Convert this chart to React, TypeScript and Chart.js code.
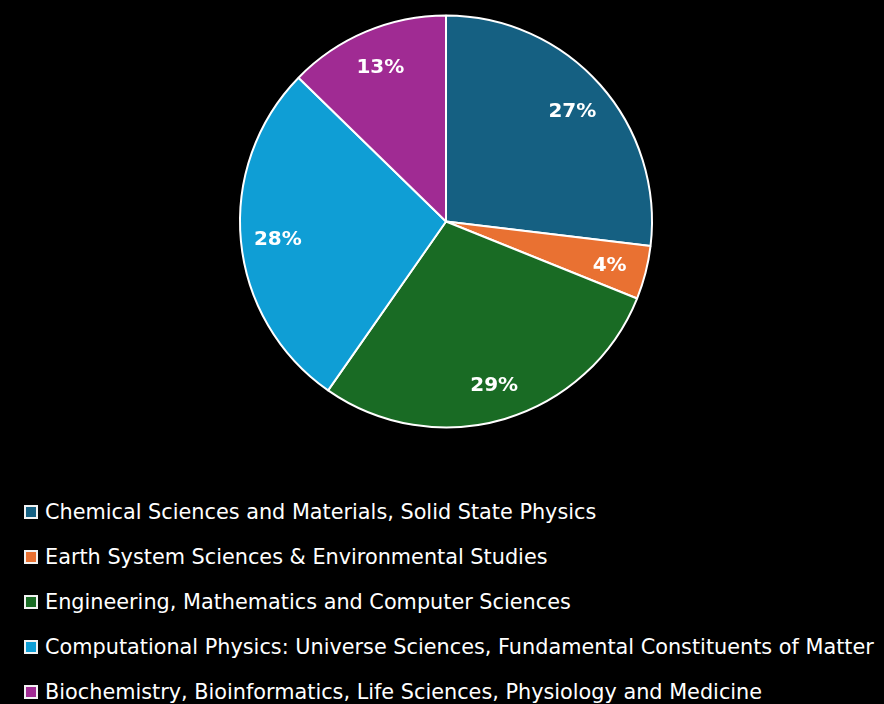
import React, { useEffect, useRef } from "react";
import { Chart, registerables } from "chart.js";

Chart.register(...registerables);

const categories = [
  "Chemical Sciences and Materials, Solid State Physics",
  "Earth System Sciences & Environmental Studies",
  "Engineering, Mathematics and Computer Sciences",
  "Computational Physics: Universe Sciences, Fundamental Constituents of Matter",
  "Biochemistry, Bioinformatics, Life Sciences, Physiology and Medicine",
];
const shares = [26.9, 4.2, 28.6, 27.6, 12.7];
const colors = ["#156082", "#E97132", "#196B24", "#0F9ED5", "#A02B93"];

const labelPlugin = {
  id: "sliceLabels",
  afterDatasetsDraw(chart: any) {
    const ctx = chart.ctx;
    const meta = chart.getDatasetMeta(0);
    const data = chart.data.datasets[0].data as number[];
    const total = data.reduce((a, b) => a + b, 0);
    ctx.save();
    ctx.fillStyle = "#ffffff";
    ctx.font = "bold 20px 'DejaVu Sans', sans-serif";
    ctx.textAlign = "center";
    ctx.textBaseline = "middle";
    meta.data.forEach((arc: any, i: number) => {
      const { x, y, startAngle, endAngle, outerRadius } = arc.getProps(
        ["x", "y", "startAngle", "endAngle", "outerRadius"],
        true
      );
      const mid = (startAngle + endAngle) / 2;
      const r = outerRadius * 0.82;
      const pct = Math.round((data[i] / total) * 100);
      ctx.fillText(pct + "%", x + Math.cos(mid) * r, y + Math.sin(mid) * r + 2);
    });
    ctx.restore();
  },
};

export default function App() {
  const canvasRef = useRef<HTMLCanvasElement | null>(null);

  useEffect(() => {
    document.body.style.margin = "0";
    document.body.style.background = "#000";
    const chart = new Chart(canvasRef.current as HTMLCanvasElement, {
      type: "pie",
      data: {
        labels: categories,
        datasets: [
          {
            data: shares,
            backgroundColor: colors,
            borderColor: "#ffffff",
            borderWidth: 2,
            hoverOffset: 0,
          },
        ],
      },
      options: {
        animation: false,
        responsive: false,
        radius: 206,
        layout: { padding: { left: 8, top: 3, right: 0, bottom: 0 } },
        plugins: {
          legend: { display: false },
          tooltip: { enabled: false },
        },
      },
      plugins: [labelPlugin],
    });
    return () => chart.destroy();
  }, []);

  return (
    <div
      style={{
        position: "fixed",
        left: 0,
        top: 0,
        width: 884,
        height: 704,
        background: "#000",
        overflow: "hidden",
      }}
    >
      <canvas
        ref={canvasRef}
        width={884}
        height={440}
        style={{ position: "absolute", left: 0, top: 0, width: 884, height: 440 }}
      />
      {categories.map((c, i) => (
        <div
          key={c}
          style={{
            position: "absolute",
            left: 24,
            top: 511.5 + i * 45.2 - 15,
            height: 30,
            display: "flex",
            alignItems: "center",
            fontFamily: "'DejaVu Sans', sans-serif",
            fontSize: 20.8,
            color: "#ffffff",
            whiteSpace: "nowrap",
          }}
        >
          <span
            style={{
              display: "inline-block",
              width: 10,
              height: 10,
              background: colors[i],
              border: "2px solid #f2f2f2",
              marginRight: 7,
              flex: "none",
            }}
          />
          <span style={{ lineHeight: "30px" }}>{c}</span>
        </div>
      ))}
    </div>
  );
}
